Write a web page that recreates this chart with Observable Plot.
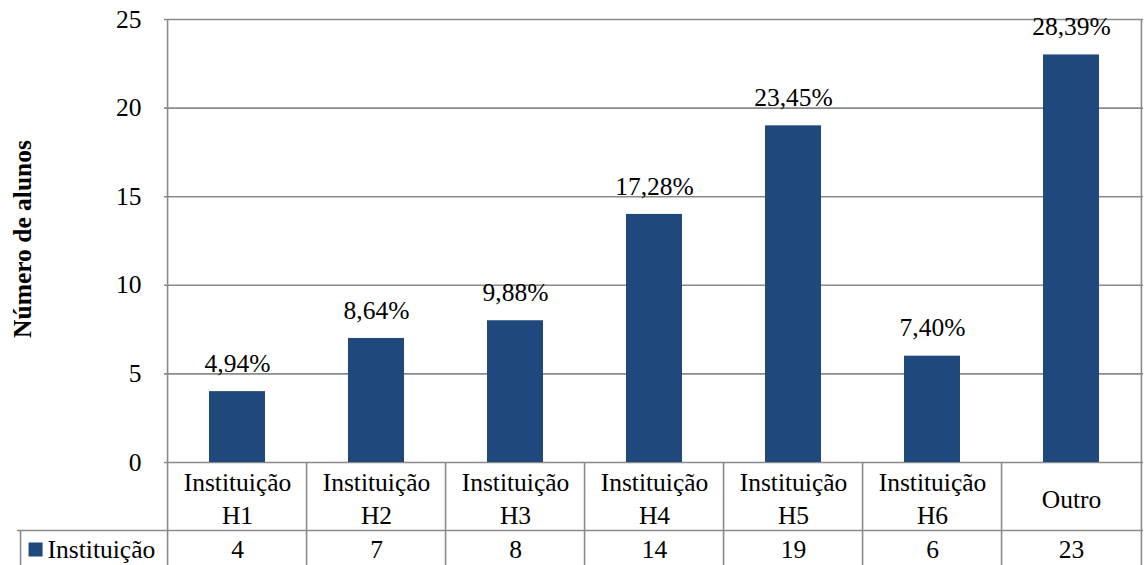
<!DOCTYPE html>
<html>
<head>
<meta charset="utf-8">
<script src="https://cdn.jsdelivr.net/npm/d3@7"></script>
<script src="https://cdn.jsdelivr.net/npm/@observablehq/plot@0.6"></script>
<style>
  html, body { margin: 0; padding: 0; background: #fff; }
  #chart svg { display: block; font-family: "Liberation Serif", "Times New Roman", serif; }
  #chart svg text { font-family: "Liberation Serif", "Times New Roman", serif; }
</style>
</head>
<body>
<div id="chart"></div>
<script>
// ---- Data ----
const categories = ["Instituição H1", "Instituição H2", "Instituição H3", "Instituição H4", "Instituição H5", "Instituição H6", "Outro"];
const categoryLabels = ["Instituição\nH1", "Instituição\nH2", "Instituição\nH3", "Instituição\nH4", "Instituição\nH5", "Instituição\nH6", "Outro"];
const alunos = [4, 7, 8, 14, 19, 6, 23];
const percentLabels = ["4,94%", "8,64%", "9,88%", "17,28%", "23,45%", "7,40%", "28,39%"];
const yTicks = [0, 5, 10, 15, 20, 25];
const seriesName = "Instituição";
const yTitle = "Número de alunos";

// ---- Layout / style ----
const W = 1144, H = 565;
const ML = 164, MR = 1, MT = 19, MB = 103;
const barColor = "#1F497D";
const lineColor = "#8a8a8a";
const lineW = 1.6;
const FS = 25.5;
const FF = "Liberation Serif";
const step = (W - ML - MR) / categories.length;
const half = step / 2;
const firstCenter = ML + half;

const rows = categories.map((c, i) => ({category: c, label: categoryLabels[i], value: alunos[i], pct: percentLabels[i]}));

const plot = Plot.plot({
  width: W,
  height: H,
  marginLeft: ML,
  marginRight: MR,
  marginTop: MT,
  marginBottom: MB,
  style: {fontFamily: FF, fontSize: FS + "px", color: "#000", background: "#fff"},
  x: {domain: categories, axis: null, paddingInner: 0.6, paddingOuter: 0.3},
  y: {domain: [0, 25], axis: null},
  marks: [
    // horizontal gridlines (plot area)
    Plot.ruleY(yTicks, {stroke: lineColor, strokeWidth: lineW}),
    // plot area left and right borders, extended through the data table
    Plot.ruleX([categories[0]], {dx: -half, insetBottom: -MB, stroke: lineColor, strokeWidth: lineW}),
    Plot.ruleX([categories[categories.length - 1]], {dx: half, insetBottom: -MB, stroke: lineColor, strokeWidth: lineW}),
    // inner table column separators
    Plot.ruleX(categories.slice(1), {dx: -half, insetTop: H - MT - MB, insetBottom: -MB, stroke: lineColor, strokeWidth: lineW}),
    // table row separator (extends into legend cell)
    Plot.ruleY([0], {dy: 68, insetLeft: -(ML - 17), stroke: lineColor, strokeWidth: lineW}),
    // legend cell left border
    Plot.ruleX([categories[0]], {dx: 17 - firstCenter, insetTop: H - MT - MB + 68, insetBottom: -MB, stroke: lineColor, strokeWidth: lineW}),
    // bars
    Plot.barY(rows, {x: "category", y: "value", fill: barColor}),
    // percentage labels
    Plot.text(rows, {x: "category", y: "value", text: "pct", dy: -28, lineAnchor: "middle", fill: "#000", fontSize: FS, fontFamily: FF}),
    // y axis ticks
    Plot.axisY(yTicks, {tickSize: 0, tickPadding: 23, label: null, fontSize: FS, fontFamily: FF, fill: "#000"}),
    // y axis title
    Plot.text([yTitle], {frameAnchor: "left", dx: 22.5 - ML, dy: -2, rotate: -90, textAnchor: "middle", lineAnchor: "middle", fontWeight: "bold", fontSize: FS, fontFamily: FF, fill: "#000"}),
    // data table: category labels
    Plot.text(rows, {x: "category", text: "label", frameAnchor: "bottom", dy: 34.5, lineAnchor: "middle", lineHeight: 1.29, fill: "#000", fontSize: FS, fontFamily: FF}),
    // data table: values
    Plot.text(rows, {x: "category", text: d => String(d.value), frameAnchor: "bottom", dy: 87, lineAnchor: "middle", fill: "#000", fontSize: FS, fontFamily: FF}),
    // legend key
    Plot.dot([seriesName], {x: () => categories[0], y: () => 0, dx: 32 - firstCenter, dy: 87, symbol: "square", r: 14 / Math.sqrt(Math.PI), fill: barColor, stroke: "none"}),
    Plot.text([seriesName], {x: () => categories[0], y: () => 0, dx: 44 - firstCenter, dy: 87, textAnchor: "start", lineAnchor: "middle", fill: "#000", fontSize: FS, fontFamily: FF})
  ]
});
document.getElementById("chart").appendChild(plot);
</script>
</body>
</html>
